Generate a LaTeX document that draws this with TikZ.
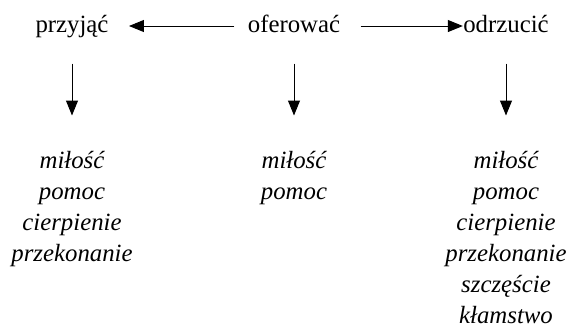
\documentclass[tikz,border=0pt]{standalone}
\usepackage{fontspec}
\setmainfont{Liberation Serif}
\usetikzlibrary{arrows.meta}
\usetikzlibrary{positioning}

\tikzset{
  verb/.style={inner sep=0pt, text height=9pt, text depth=3pt, font=\fontsize{12.4}{15.5}\selectfont},
  words/.style={inner sep=0pt, align=center, font=\itshape\fontsize{12.4}{15.5}\selectfont},
}

\begin{document}
\begin{tikzpicture}[x=0.5pt, y=-0.5pt, line width=0.5pt, >={Triangle[length=7.5pt,width=6pt]}]
  \useasboundingbox (0,0) rectangle (574,328);

  % Verbs on top
  \node[verb, anchor=base] (przyjac)  at (72,32)  {przyjąć};
  \node[verb, anchor=base] (oferowac) at (294,32) {oferować};
  \node[verb, anchor=base] (odrzucic) at (506,32) {odrzucić};

  \path[->]
  (oferowac) edge[shorten <=6.5pt, shorten >=10pt] (przyjac)
  (oferowac) edge[shorten <=10pt] (odrzucic);

  % Word lists below
  \node[words] (wPrzyjac)  [below=56pt of przyjac]  {miłość\\pomoc\\cierpienie\\przekonanie};
  \node[words] (wOferowac) [below=56pt of oferowac] {miłość\\pomoc};
  \node[words] (wOdrzucic) [below=56pt of odrzucic] {miłość\\pomoc\\cierpienie\\przekonanie\\szczęście\\kłamstwo};

  \path[->, shorten <=12.5pt, shorten >=17.5pt]
  (przyjac)  edge (wPrzyjac)
  (oferowac) edge (wOferowac)
  (odrzucic) edge (wOdrzucic);
\end{tikzpicture}
\end{document}
